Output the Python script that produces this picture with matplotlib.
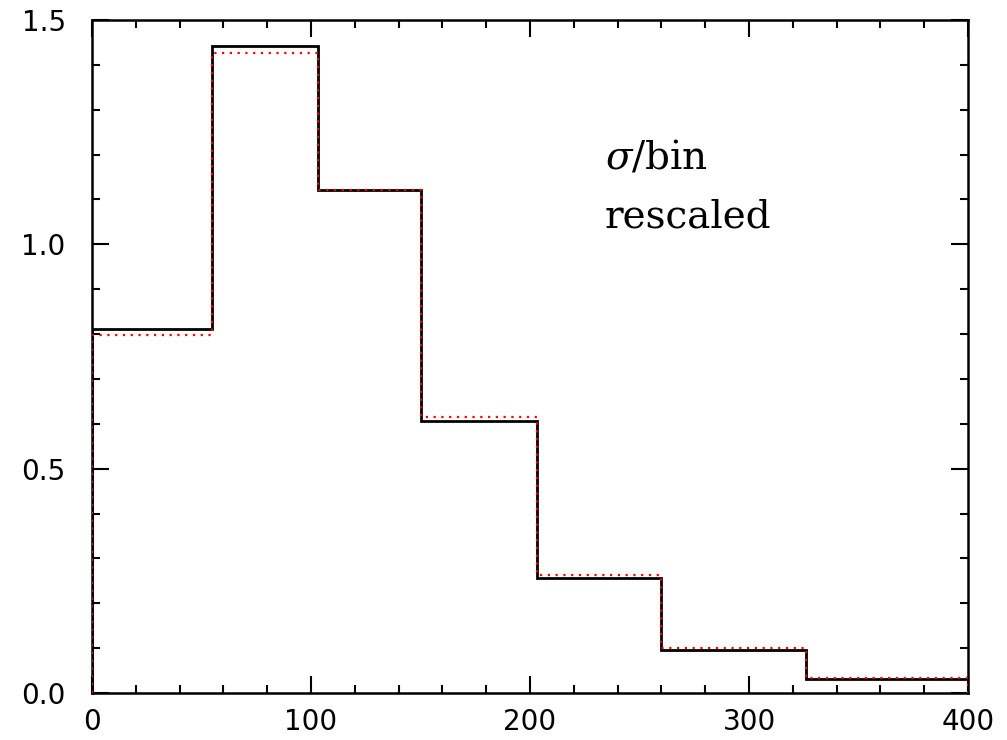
import numpy as np
from matplotlib import pyplot as plt
from matplotlib.ticker import MultipleLocator

plt.rcParams['mathtext.fontset'] = 'dejavuserif'

# bin edges and the two histograms
edges = [0, 55, 103, 150, 203, 260, 326, 400]
black_vals = [0.812, 1.442, 1.121, 0.606, 0.256, 0.096, 0.031]
red_vals = [0.798, 1.426, 1.121, 0.615, 0.264, 0.100, 0.034]

fig = plt.figure(figsize=(10.07, 7.40), dpi=100)
ax = fig.add_axes([0.0914, 0.0635, 0.8699, 0.9095])

ax.stairs(black_vals, edges, baseline=0, color='black', lw=2.0, zorder=2)
ax.stairs(red_vals, edges, baseline=0, color='red', lw=1.6, ls=(0, (1, 2.5)), zorder=3)

ax.set_xlim(0, 400)
ax.set_ylim(0, 1.5)
ax.xaxis.set_major_locator(MultipleLocator(100))
ax.xaxis.set_minor_locator(MultipleLocator(20))
ax.yaxis.set_major_locator(MultipleLocator(0.5))
ax.yaxis.set_minor_locator(MultipleLocator(0.1))
ax.yaxis.set_major_formatter(plt.FuncFormatter(lambda v, p: '%.1f' % v))

ax.tick_params(which='both', direction='in', top=True, right=True, width=1.5)
ax.tick_params(which='major', length=12, labelsize=20)
ax.tick_params(axis='y', which='major', pad=19)
ax.tick_params(axis='x', which='major', pad=11)
ax.tick_params(which='minor', length=6)
for s in ax.spines.values():
    s.set_linewidth(1.8)

ax.text(0.5856, 0.780, r'$\sigma/$bin', transform=ax.transAxes, fontsize=28,
        family='DejaVu Serif', va='baseline')
ax.text(0.5856, 0.692, 'rescaled', transform=ax.transAxes, fontsize=28,
        family='DejaVu Serif', va='baseline')

fig.savefig('out.png', dpi=100)
